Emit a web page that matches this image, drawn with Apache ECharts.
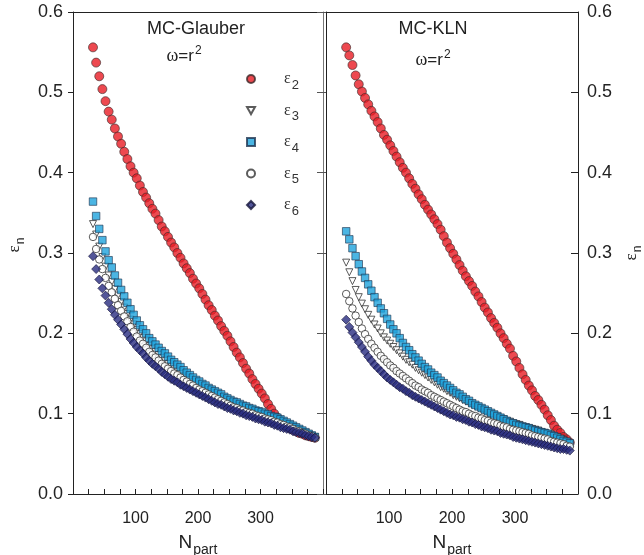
<!DOCTYPE html>
<html><head><meta charset="utf-8">
<script src="https://cdn.jsdelivr.net/npm/echarts@6/dist/echarts.min.js"></script>
<style>html,body{margin:0;padding:0;background:#fff}#c{width:644px;height:555px}</style>
</head><body><div id="c"></div>
<script>
// N_part values (same for every series)
const nPart = [32,37,42,47,52,57,62,67,72,77,82,87,92,97,102,107,112,117,122,127,132,137,142,147,152,157,162,167,172,177,182,187,192,197,202,207,212,217,222,227,232,237,242,247,252,257,262,267,272,277,282,287,292,297,302,307,312,317,322,327,332,337,342,347,352,357,362,367,372,377,382,387];

// MC-Glauber
const glauberE2 = [.556,.537,.520,.504,.489,.476,.466,.455,.445,.436,.426,.417,.408,.400,.393,.384,.376,.369,.362,.355,.349,.341,.333,.327,.320,.313,.307,.300,.294,.287,.281,.275,.268,.262,.256,.249,.242,.235,.229,.222,.216,.209,.203,.197,.190,.183,.176,.170,.163,.156,.150,.143,.137,.131,.125,.119,.112,.106,.100,.095,.091,.087,.084,.082,.080,.078,.076,.075,.073,.072,.071,.070];
const glauberE3 = [.336,.323,.308,.295,.283,.272,.264,.255,.247,.239,.232,.224,.217,.211,.204,.199,.194,.190,.184,.180,.177,.173,.169,.166,.162,.159,.156,.153,.150,.147,.144,.142,.139,.136,.134,.132,.130,.127,.125,.123,.121,.119,.117,.115,.113,.111,.110,.108,.107,.105,.104,.103,.101,.100,.099,.097,.096,.094,.093,.092,.090,.088,.086,.085,.083,.081,.079,.077,.076,.074,.072,.071];
const glauberE4 = [.364,.346,.330,.316,.302,.291,.282,.272,.263,.254,.246,.238,.230,.223,.216,.210,.205,.200,.194,.190,.186,.182,.178,.175,.171,.167,.164,.161,.158,.154,.151,.148,.145,.142,.140,.137,.135,.132,.130,.128,.126,.124,.121,.119,.117,.115,.114,.112,.110,.109,.107,.106,.104,.103,.102,.100,.099,.097,.096,.095,.093,.091,.089,.087,.085,.083,.081,.079,.077,.075,.073,.071];
const glauberE5 = [.320,.305,.292,.280,.269,.259,.251,.243,.235,.228,.221,.215,.208,.202,.196,.191,.187,.182,.177,.173,.170,.166,.162,.159,.156,.153,.150,.148,.145,.142,.140,.137,.135,.132,.130,.128,.126,.124,.122,.120,.118,.116,.114,.112,.110,.108,.107,.105,.104,.102,.101,.100,.098,.097,.096,.094,.093,.092,.090,.089,.087,.086,.084,.083,.081,.079,.078,.076,.075,.073,.072,.070];
const glauberE6 = [.296,.280,.267,.256,.247,.238,.230,.223,.217,.211,.205,.199,.193,.188,.183,.179,.175,.170,.166,.162,.159,.156,.152,.149,.146,.143,.141,.139,.136,.134,.132,.130,.128,.126,.124,.122,.120,.118,.116,.114,.112,.111,.109,.107,.106,.104,.103,.101,.100,.098,.097,.096,.094,.093,.092,.090,.089,.088,.086,.085,.083,.082,.081,.080,.078,.077,.076,.075,.073,.072,.071,.070];

// MC-KLN
const klnE2 = [.556,.546,.534,.521,.510,.501,.493,.485,.477,.470,.463,.455,.447,.441,.434,.427,.420,.413,.406,.400,.393,.386,.380,.373,.367,.360,.354,.348,.342,.336,.329,.321,.313,.306,.299,.292,.285,.278,.271,.265,.259,.252,.246,.239,.232,.226,.219,.213,.207,.200,.194,.187,.181,.172,.165,.157,.149,.142,.135,.129,.122,.117,.111,.105,.098,.092,.085,.080,.076,.071,.068,.064];
const klnE3 = [.288,.276,.265,.254,.245,.237,.230,.223,.217,.211,.206,.200,.195,.191,.187,.183,.179,.175,.171,.167,.164,.161,.157,.154,.151,.148,.145,.142,.139,.136,.133,.131,.128,.126,.123,.121,.119,.117,.115,.113,.111,.109,.107,.105,.103,.101,.099,.098,.096,.094,.093,.091,.090,.088,.087,.086,.084,.083,.082,.081,.080,.079,.077,.076,.075,.074,.072,.071,.069,.067,.065,.063];
const klnE4 = [.327,.317,.306,.296,.286,.277,.269,.261,.253,.245,.238,.231,.225,.218,.211,.205,.200,.194,.188,.183,.179,.174,.170,.166,.162,.158,.155,.151,.148,.145,.141,.138,.135,.132,.129,.126,.124,.121,.118,.116,.113,.111,.109,.107,.105,.103,.101,.099,.097,.095,.093,.091,.089,.088,.086,.085,.084,.083,.082,.080,.079,.078,.077,.076,.075,.073,.072,.070,.068,.066,.065,.063];
const klnE5 = [.249,.240,.231,.222,.214,.206,.199,.193,.187,.182,.177,.172,.168,.164,.160,.157,.153,.150,.147,.144,.141,.138,.135,.133,.130,.128,.126,.123,.121,.119,.117,.115,.113,.111,.109,.107,.105,.103,.102,.100,.098,.097,.095,.094,.092,.091,.089,.088,.087,.085,.084,.083,.081,.080,.079,.078,.077,.076,.075,.073,.072,.071,.070,.069,.068,.066,.065,.064,.063,.062,.060,.059];
const klnE6 = [.217,.208,.201,.195,.189,.183,.177,.171,.166,.161,.157,.153,.149,.145,.142,.139,.136,.133,.131,.128,.126,.123,.121,.119,.117,.115,.113,.111,.109,.107,.105,.103,.101,.099,.098,.096,.095,.093,.092,.090,.089,.087,.086,.084,.083,.082,.080,.079,.078,.076,.075,.074,.073,.071,.070,.069,.068,.067,.066,.065,.064,.063,.062,.061,.060,.059,.058,.057,.056,.056,.055,.054];

const seriesNames = ['ε2','ε3','ε4','ε5','ε6'];
const panelTitles = ['MC-Glauber','MC-KLN'];
const xTickLabels = [100,200,300];

const panels = [
  [glauberE2, glauberE3, glauberE4, glauberE5, glauberE6],
  [klnE2, klnE3, klnE4, klnE5, klnE6]
];

const styles = [
  {symbol:'circle', symbolSize:9, symbolRotate:0, itemStyle:{color:'#e81c24', borderColor:'#3a2a2a', borderWidth:0.8}},
  {symbol:'triangle', symbolSize:7, symbolRotate:180, itemStyle:{color:'#ffffff', borderColor:'#333', borderWidth:1}},
  {symbol:'rect', symbolSize:7.5, symbolRotate:0, itemStyle:{color:'#1ea3dc', borderColor:'#1f3550', borderWidth:0.8}},
  {symbol:'circle', symbolSize:7.5, symbolRotate:0, itemStyle:{color:'#ffffff', borderColor:'#333', borderWidth:1}},
  {symbol:'diamond', symbolSize:9, symbolRotate:0, itemStyle:{color:'#282c80', borderColor:'#15153a', borderWidth:0.8}}
];
const legendIcons = ['circle', 'path://M0,0 L10,0 L5,9 Z', 'rect', 'circle', 'diamond'];

const FONT = '"Liberation Sans", Arial, sans-serif';
const SERIF = '"Liberation Serif", "DejaVu Serif", serif';
const TXT = '#222';

const series = [];
panels.forEach((vals, p) => {
  vals.forEach((arr, k) => {
    series.push(Object.assign({
      name: seriesNames[k], type:'scatter',
      xAxisIndex: p*2, yAxisIndex: p*2,
      data: nPart.map((n,i)=>[n, arr[i]])
    }, styles[k]));
  });
});

function yName(gap, leftPad){
  return {
    name:'{e|ε}{n|n}', nameLocation:'middle', nameRotate:90, nameMoveOverlap:false, nameGap:gap,
    nameTextStyle:{rich:{e:{fontSize:17, fontFamily:SERIF, color:TXT, padding:[0,0,0,leftPad]}, n:{fontSize:12, fontFamily:FONT, color:TXT, padding:[12,0,0,1]}}}
  };
}
const xName = {
  name:'{N|N}{p|part}', nameLocation:'middle', nameGap:35, nameMoveOverlap:false,
  nameTextStyle:{rich:{N:{fontSize:19, fontFamily:FONT, color:TXT}, p:{fontSize:14, fontFamily:FONT, color:TXT, padding:[14,0,0,1]}}}
};

function xAxisBottom(g){
  return Object.assign({
    gridIndex:g, type:'value', min:0, max:400, interval:25, position:'bottom',
    axisLine:{show:true, onZero:false, lineStyle:{color:'#222', width:1}},
    axisTick:{show:true, inside:true, length:5, lineStyle:{color:'#222'}},
    axisLabel:{margin:17, fontSize:16, fontFamily:FONT, color:TXT,
      formatter:v => xTickLabels.indexOf(v) >= 0 ? String(v) : ''},
    splitLine:{show:false}
  }, xName);
}
function xAxisTop(g){
  return {gridIndex:g, type:'value', min:0, max:400, position:'top',
    axisLine:{show:true, onZero:false, lineStyle:{color:'#222', width:1}},
    axisTick:{show:false}, axisLabel:{show:false}, splitLine:{show:false}};
}
function yAx(g, pos, opts){
  return Object.assign({
    gridIndex:g, type:'value', min:0, max:0.6, interval:0.1, position:pos,
    splitLine:{show:false}
  }, opts);
}

const option = {
  animation:false,
  backgroundColor:'#fff',
  grid:[
    {left:73, top:12, width:250, height:482, containLabel:false, outerBoundsMode:'none'},
    {left:326, top:12, width:252, height:482, containLabel:false, outerBoundsMode:'none'}
  ],
  xAxis:[xAxisBottom(0), xAxisTop(0), xAxisBottom(1), xAxisTop(1)],
  yAxis:[
    yAx(0,'left', Object.assign({
      axisLine:{show:true, onZero:false, lineStyle:{color:'#222'}},
      axisTick:{show:true, inside:false, length:5, lineStyle:{color:'#222'}},
      axisLabel:{margin:10, fontSize:18, fontFamily:FONT, color:TXT, formatter:v=>v.toFixed(1)}
    }, yName(46, 16))),
    yAx(0,'right', {
      axisLine:{show:true, onZero:false, lineStyle:{color:'#777'}},
      axisTick:{show:true, inside:true, length:6, lineStyle:{color:'#555'}},
      axisLabel:{show:false}
    }),
    yAx(1,'left', {
      axisLine:{show:true, onZero:false, lineStyle:{color:'#222'}},
      axisTick:{show:true, inside:false, length:3, lineStyle:{color:'#555'}},
      axisLabel:{show:false}
    }),
    yAx(1,'right', Object.assign({
      axisLine:{show:true, onZero:false, lineStyle:{color:'#222'}},
      axisTick:{show:true, inside:true, length:7, lineStyle:{color:'#222'}},
      axisLabel:{margin:9, fontSize:18, fontFamily:FONT, color:TXT, formatter:v=>v.toFixed(1)}
    }, yName(42, 0)))
  ],
  legend:{
    data:seriesNames.map((n,k)=>({name:n, icon:legendIcons[k]})),
    orient:'vertical', left:241, top:66, padding:5,
    itemWidth:8, itemHeight:8, itemGap:11,
    formatter:name => '{e|ε}{s|' + name.slice(1) + '}',
    textStyle:{rich:{
      e:{fontSize:16, fontFamily:SERIF, color:'#333', padding:[0,0,0,24], lineHeight:20},
      s:{fontSize:13, fontFamily:FONT, color:'#333', padding:[12,0,0,1]}
    }}
  },
  graphic:[
    {type:'text', x:196, y:29, silent:true, style:{text:panelTitles[0], font:'18px '+FONT, fill:TXT, align:'center', verticalAlign:'middle', textAlign:'center', textVerticalAlign:'middle'}},
    {type:'text', x:433, y:29, silent:true, style:{text:panelTitles[1], font:'18px '+FONT, fill:TXT, align:'center', verticalAlign:'middle', textAlign:'center', textVerticalAlign:'middle'}},
    {type:'text', x:184, y:56, silent:true, style:{text:'{w|ω}{t|=r}{p|2}', align:'center', verticalAlign:'middle', textAlign:'center', textVerticalAlign:'middle',
      rich:{w:{fontSize:18, fontFamily:SERIF, fill:TXT, color:TXT}, t:{fontSize:17, fontFamily:FONT, fill:TXT, color:TXT}, p:{fontSize:12, fontFamily:FONT, fill:TXT, color:TXT, padding:[0,0,11,1]}}}},
    {type:'text', x:433, y:60, silent:true, style:{text:'{w|ω}{t|=r}{p|2}', align:'center', verticalAlign:'middle', textAlign:'center', textVerticalAlign:'middle',
      rich:{w:{fontSize:18, fontFamily:SERIF, fill:TXT, color:TXT}, t:{fontSize:17, fontFamily:FONT, fill:TXT, color:TXT}, p:{fontSize:12, fontFamily:FONT, fill:TXT, color:TXT, padding:[0,0,11,1]}}}}
  ],
  series: series
};

const chart = echarts.init(document.getElementById('c'), null, {renderer:'canvas'});
chart.setOption(option);
</script>
</body></html>
